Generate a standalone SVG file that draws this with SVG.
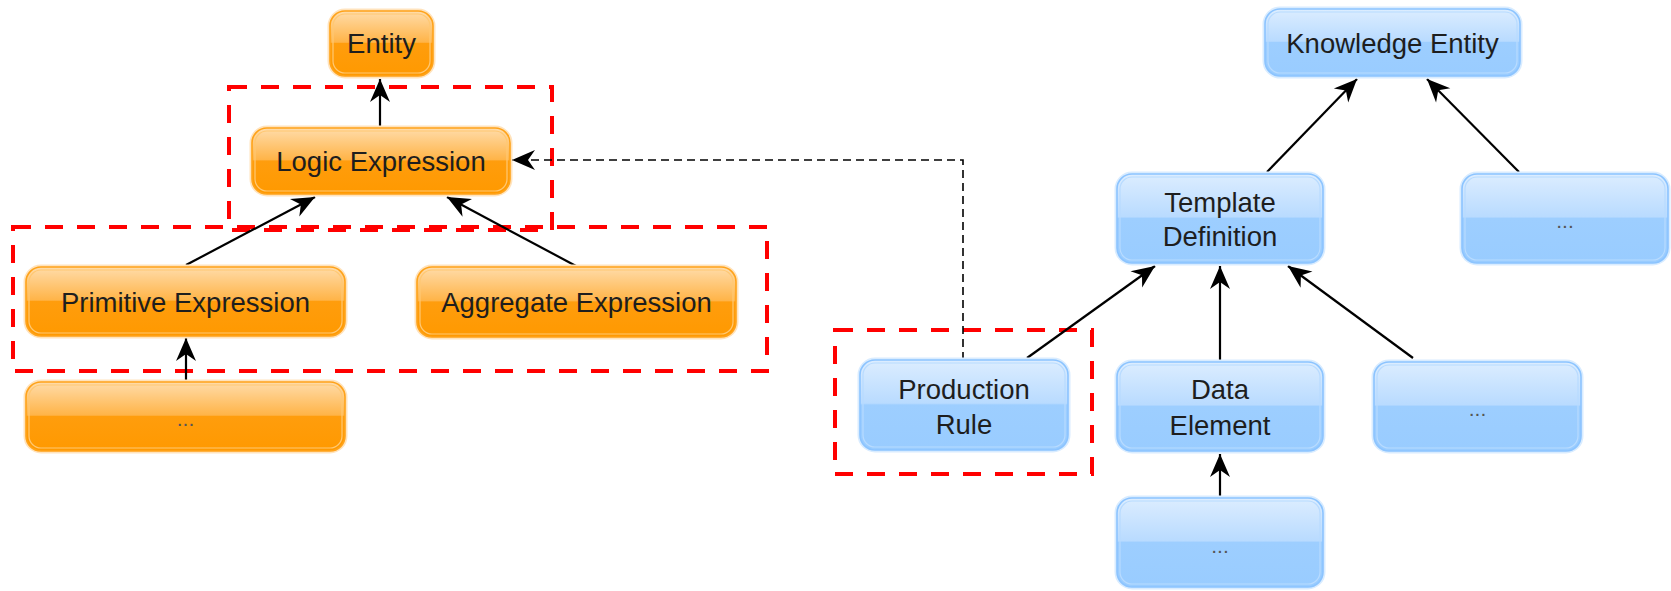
<svg xmlns="http://www.w3.org/2000/svg" width="1671" height="591" viewBox="0 0 1671 591">
  <style>
    .halo { fill: none; stroke-width: 5; }
    .o .halo { stroke: #ffe3bd; }
    .b .halo { stroke: #d9ecff; }
    .o .frame { fill: url(#gOrange); stroke: #ffa31a; stroke-width: 1.6; }
    .b .frame { fill: url(#gBlue); stroke: #8cc4ff; stroke-width: 1.6; }
    .inner { fill: none; stroke-width: 1.2; }
    .o .inner { stroke: #ffc873; }
    .b .inner { stroke: #b8dbff; }
    text { font-family: "Liberation Sans", Arial, sans-serif; font-size: 27.5px; fill: #1e1e1e; text-anchor: middle; }
    text.dots { font-size: 21px; fill: #555; }
    .edge { fill: none; stroke: #000; stroke-width: 2.2; marker-end: url(#arrow); }
    .dep { fill: none; stroke: #000; stroke-width: 1.6; stroke-dasharray: 8 5; marker-end: url(#arrow); }
    .scope { fill: none; stroke: #ff0000; stroke-width: 4; stroke-dasharray: 18 14; }
  </style>
  <defs>
    <linearGradient id="gOrange" x1="0" y1="0" x2="0" y2="1">
      <stop offset="0" stop-color="#ffdcaa"/>
      <stop offset="0.48" stop-color="#ffb448"/>
      <stop offset="0.5" stop-color="#ff9d0d"/>
      <stop offset="1" stop-color="#ff9900"/>
    </linearGradient>
    <linearGradient id="gBlue" x1="0" y1="0" x2="0" y2="1">
      <stop offset="0" stop-color="#dcedff"/>
      <stop offset="0.48" stop-color="#b9dbff"/>
      <stop offset="0.5" stop-color="#9dceff"/>
      <stop offset="1" stop-color="#99ccff"/>
    </linearGradient>
    <marker id="arrow" viewBox="-25 -11 27 22" refX="0" refY="0" markerWidth="27" markerHeight="22" markerUnits="userSpaceOnUse" orient="auto">
      <path d="M0,0 L-23,-10 L-16,0 L-23,10 Z" fill="#000"/>
    </marker>
  </defs>

  <!-- scope outlines -->
  <g id="scopes">
    <rect class="scope" x="229" y="87" width="323" height="143"/>
    <rect class="scope" x="13" y="227" width="754" height="144"/>
    <rect class="scope" x="835" y="330" width="257" height="144"/>
  </g>

  <!-- connectors -->
  <g id="connectors">
    <line class="edge" x1="380" y1="127" x2="380" y2="79"/>
    <line class="edge" x1="186" y1="265" x2="315" y2="197"/>
    <line class="edge" x1="576" y1="266" x2="447" y2="197"/>
    <line class="edge" x1="186" y1="382" x2="186" y2="338"/>
    <polyline class="dep" points="963,360 963,160 512,160"/>
    <line class="edge" x1="1267" y1="172" x2="1357" y2="79"/>
    <line class="edge" x1="1519" y1="172" x2="1427" y2="79"/>
    <line class="edge" x1="1027" y1="358" x2="1155" y2="266"/>
    <line class="edge" x1="1220" y1="360" x2="1220" y2="266"/>
    <line class="edge" x1="1413" y1="358" x2="1288" y2="266"/>
    <line class="edge" x1="1220" y1="497" x2="1220" y2="454"/>
  </g>

  <!-- orange hierarchy -->
  <g id="entity" class="o">
    <rect class="halo" x="330" y="11" width="103" height="65" rx="15"/>
    <rect class="frame" x="330" y="11" width="103" height="65" rx="15"/>
    <rect class="inner" x="333" y="14" width="97" height="59" rx="12"/>
    <text x="381.5" y="53">Entity</text>
  </g>
  <g id="logic-expression" class="o">
    <rect class="halo" x="252" y="128" width="258" height="66" rx="15"/>
    <rect class="frame" x="252" y="128" width="258" height="66" rx="15"/>
    <rect class="inner" x="255" y="131" width="252" height="60" rx="12"/>
    <text x="381" y="171">Logic Expression</text>
  </g>
  <g id="primitive-expression" class="o">
    <rect class="halo" x="26" y="267" width="319" height="69" rx="15"/>
    <rect class="frame" x="26" y="267" width="319" height="69" rx="15"/>
    <rect class="inner" x="29" y="270" width="313" height="63" rx="12"/>
    <text x="185.5" y="312">Primitive Expression</text>
  </g>
  <g id="aggregate-expression" class="o">
    <rect class="halo" x="417" y="267" width="319" height="70" rx="15"/>
    <rect class="frame" x="417" y="267" width="319" height="70" rx="15"/>
    <rect class="inner" x="420" y="270" width="313" height="64" rx="12"/>
    <text x="576.5" y="312">Aggregate Expression</text>
  </g>
  <g id="primitive-more" class="o">
    <rect class="halo" x="26" y="382" width="319" height="69" rx="15"/>
    <rect class="frame" x="26" y="382" width="319" height="69" rx="15"/>
    <rect class="inner" x="29" y="385" width="313" height="63" rx="12"/>
    <text class="dots" x="185.5" y="426">...</text>
  </g>

  <!-- blue hierarchy -->
  <g id="knowledge-entity" class="b">
    <rect class="halo" x="1265" y="9" width="255" height="67" rx="15"/>
    <rect class="frame" x="1265" y="9" width="255" height="67" rx="15"/>
    <rect class="inner" x="1268" y="12" width="249" height="61" rx="12"/>
    <text x="1392.5" y="53">Knowledge Entity</text>
  </g>
  <g id="template-definition" class="b">
    <rect class="halo" x="1117" y="174" width="206" height="89" rx="15"/>
    <rect class="frame" x="1117" y="174" width="206" height="89" rx="15"/>
    <rect class="inner" x="1120" y="177" width="200" height="83" rx="12"/>
    <text x="1220" y="212">Template</text>
    <text x="1220" y="246">Definition</text>
  </g>
  <g id="knowledge-more" class="b">
    <rect class="halo" x="1462" y="174" width="206" height="89" rx="15"/>
    <rect class="frame" x="1462" y="174" width="206" height="89" rx="15"/>
    <rect class="inner" x="1465" y="177" width="200" height="83" rx="12"/>
    <text class="dots" x="1565" y="228">...</text>
  </g>
  <g id="production-rule" class="b">
    <rect class="halo" x="860" y="360" width="208" height="90" rx="15"/>
    <rect class="frame" x="860" y="360" width="208" height="90" rx="15"/>
    <rect class="inner" x="863" y="363" width="202" height="84" rx="12"/>
    <text x="964" y="399">Production</text>
    <text x="964" y="434">Rule</text>
  </g>
  <g id="data-element" class="b">
    <rect class="halo" x="1117" y="362" width="206" height="89" rx="15"/>
    <rect class="frame" x="1117" y="362" width="206" height="89" rx="15"/>
    <rect class="inner" x="1120" y="365" width="200" height="83" rx="12"/>
    <text x="1220" y="399">Data</text>
    <text x="1220" y="435">Element</text>
  </g>
  <g id="template-more" class="b">
    <rect class="halo" x="1374" y="362" width="207" height="89" rx="15"/>
    <rect class="frame" x="1374" y="362" width="207" height="89" rx="15"/>
    <rect class="inner" x="1377" y="365" width="201" height="83" rx="12"/>
    <text class="dots" x="1477.5" y="416">...</text>
  </g>
  <g id="data-element-more" class="b">
    <rect class="halo" x="1117" y="498" width="206" height="89" rx="15"/>
    <rect class="frame" x="1117" y="498" width="206" height="89" rx="15"/>
    <rect class="inner" x="1120" y="501" width="200" height="83" rx="12"/>
    <text class="dots" x="1220" y="553">...</text>
  </g>
</svg>
